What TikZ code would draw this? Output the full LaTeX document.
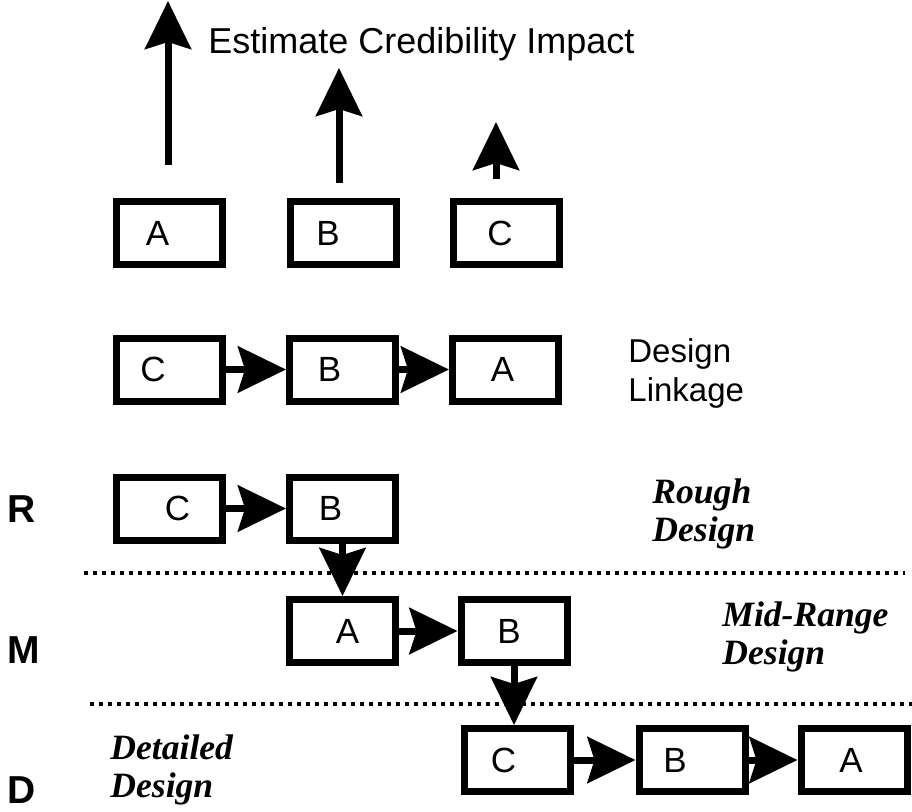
\documentclass[tikz,border=0pt]{standalone}
\usepackage{fontspec}
\setmainfont{Liberation Sans}
\newfontfamily\romanfont{Liberation Serif}
\usetikzlibrary{arrows.meta}
\tikzset{
  blk/.style={draw, line width=3.5pt, minimum width=53pt, minimum height=31.5pt, inner sep=0pt},
  tag/.style={font=\fontsize{17.5}{19}\selectfont},
  link/.style={line width=3.5pt, -{Stealth[length=24pt,width=23pt,inset=3.5pt]}},
  note/.style={anchor=base west, align=left, inner sep=0pt, font=\fontsize{16.5}{19.5}\selectfont},
  phase/.style={anchor=base west, align=left, inner sep=0pt, font=\romanfont\bfseries\itshape\fontsize{17.8}{19}\selectfont},
  level/.style={anchor=base west, inner sep=0pt, font=\bfseries\fontsize{19.5}{19.5}\selectfont}
}
\begin{document}
\begin{tikzpicture}[x=0.5pt,y=-0.5pt]
\useasboundingbox (0,0) rectangle (912,811);
%
\node[blk, label={[tag,xshift=-6pt]center:A}] (ta) at (169.5,233) {};
\node[blk, label={[tag,xshift=-7.5pt]center:B}] (tb) at (343,233) {};
\node[blk, label={[tag,xshift=-3pt]center:C}] (tc) at (506,233) {};
\coordinate (ta0) at (168,165); \coordinate (ta1) at (168,1);
\coordinate (tb0) at (339,183); \coordinate (tb1) at (339,68);
\coordinate (tc0) at (496,179); \coordinate (tc1) at (496,122);
\draw[link] (ta0) -- (ta1);
\draw[link] (tb0) -- (tb1);
\draw[link] (tc0) -- (tc1);
\node[note, font=\fontsize{18}{20}\selectfont] (est) at (208,53) {Estimate Credibility Impact};
%
\node[blk, label={[tag,xshift=-8pt]center:C}] (lc) at (169,369.5) {};
\node[blk, label={[tag,xshift=-6.5pt]center:B}] (lb) at (342.5,369.5) {};
\node[blk, label={[tag,xshift=-1.5pt]center:A}] (la) at (505.5,369.5) {};
\draw[link] (lc) -- (lb);
\draw[link] (lb) -- (la);
\node[note] (lnk) at (628,401) {Design\\Linkage};
%
\draw[line width=2pt, dash pattern=on 2pt off 2.5pt] (84,573) -- (905,573);
\draw[line width=2pt, dash pattern=on 2pt off 2.5pt] (90,704) -- (912,704);
%
\node[level] (r) at (7,522) {R};
\node[level] (m) at (7,663) {M};
\node[level] (d) at (7,803) {D};
%
\node[blk, label={[tag,xshift=4pt]center:C}] (rc) at (169.5,508.5) {};
\node[blk, label={[tag,xshift=-6pt]center:B}] (rb) at (342.5,508.5) {};
\node[phase] (rough) at (652,541) {Rough\\Design};
%
\node[blk, label={[tag,xshift=2.5pt]center:A}] (ma) at (342.5,631) {};
\node[blk, label={[tag,xshift=-2.5pt]center:B}] (mb) at (514,631) {};
\node[phase] (mid) at (722,664) {Mid-Range\\Design};
%
\node[blk, label={[tag,xshift=-7pt]center:C}] (dc) at (517.5,760) {};
\node[blk, label={[tag,xshift=-8.5pt]center:B}] (db) at (692,760) {};
\node[blk, label={[tag,xshift=-1.5pt]center:A}] (da) at (854,760) {};
\node[phase] (det) at (110,797) {Detailed\\Design};
%
\draw[link] (rc) -- (rb);
\draw[link] (rb) -- (ma);
\draw[link] (ma) -- (mb);
\draw[link] (mb.south) -- (mb.south |- dc.north);
\draw[link] (dc) -- (db);
\draw[link] (db) -- (da);
\end{tikzpicture}
\end{document}
